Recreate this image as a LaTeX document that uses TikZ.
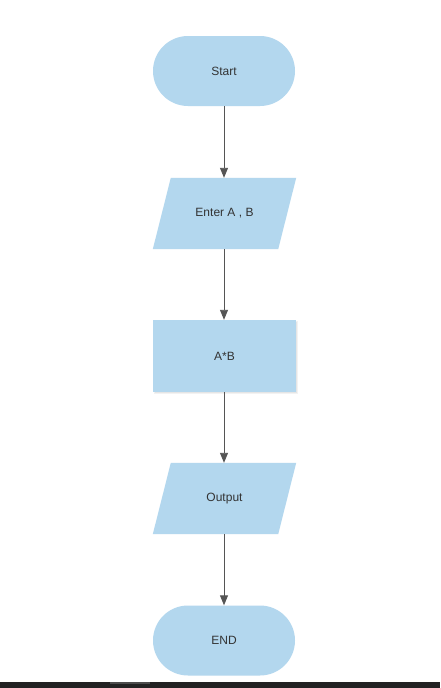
\documentclass[tikz,border=0pt]{standalone}
\usepackage{fontspec}
\setmainfont{Liberation Sans}
\usetikzlibrary{arrows.meta,calc}
\definecolor{boxfill}{HTML}{B3D7EE}
\definecolor{txt}{HTML}{333333}
\definecolor{arr}{HTML}{555555}
\definecolor{barc}{HTML}{222222}
\begin{document}
\begin{tikzpicture}[x=1pt,y=-1pt,
  lbl/.style={font=\fontsize{12}{14}\selectfont, text=txt, inner sep=0pt},
  term/.style={lbl, fill=boxfill, rounded corners=35pt, minimum width=142pt, minimum height=70pt},
  procbox/.style={lbl, fill=boxfill, minimum width=143pt, minimum height=72pt},
  iobox/.style={lbl, minimum width=143pt, minimum height=71pt},
  flow/.style={draw=arr, line width=0.9pt, -{Triangle[width=8pt,length=10pt]}}]
\useasboundingbox (0,0) rectangle (440,688);
\fill[white] (0,0) rectangle (440,688);
\fill[barc] (0,682) rectangle (440,688);
\fill[black!70] (110,682) rectangle (150,684);
% nodes
\node[term] (start) at (224,71) {Start};
\node[iobox] (enter) at (224.5,213.5) {};
\fill[boxfill] ($(enter.north west)+(18,0)$) -- (enter.north east) -- ($(enter.south east)-(18,0)$) -- (enter.south west) -- cycle;
\node[lbl] at (enter) {Enter A , B};
\fill[black, opacity=0.05] (154,321) rectangle (298,394);
\fill[black, opacity=0.05] (154.5,321.5) rectangle (297,393);
\node[procbox] (mult) at (224.5,356) {A*B};
\node[iobox] (out) at (224.5,498.5) {};
\fill[boxfill] ($(out.north west)+(18,0)$) -- (out.north east) -- ($(out.south east)-(18,0)$) -- (out.south west) -- cycle;
\node[lbl] at (out) {Output};
\node[term] (end) at (224,640.5) {END};
% connectors
\draw[flow] (start.south) -- (start.south |- enter.north);
\draw[flow] (enter.south -| start.south) -- (start.south |- mult.north);
\draw[flow] (mult.south -| start.south) -- (start.south |- out.north);
\draw[flow] (out.south -| start.south) -- (end.north);
\end{tikzpicture}
\end{document}
